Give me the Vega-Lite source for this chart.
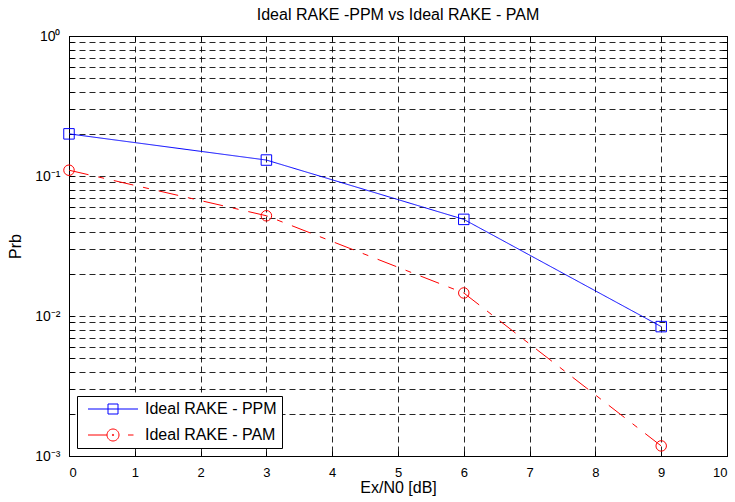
{
  "$schema": "https://vega.github.io/schema/vega-lite/v6.json",
  "autosize": {"type": "none"},
  "width": 658,
  "height": 420,
  "padding": {"left": 69, "top": 36, "right": 8, "bottom": 46},
  "background": "white",
  "config": {
    "font": "Liberation Sans",
    "view": {"stroke": "black", "strokeWidth": 1},
    "axis": {
      "domainColor": "black",
      "tickColor": "black",
      "labelColor": "black",
      "titleColor": "black",
      "labelFont": "Liberation Sans",
      "titleFont": "Liberation Sans",
      "labelFontSize": 13,
      "titleFontSize": 16,
      "titleFontWeight": "normal",
      "tickSize": -5,
      "labelOverlap": false
    }
  },
  "title": {
    "text": "Ideal RAKE -PPM vs Ideal RAKE - PAM",
    "fontSize": 16,
    "fontWeight": "normal",
    "font": "Liberation Sans",
    "color": "black",
    "offset": 6
  },
  "data": {
    "values": [
      {"x": 0, "prb": 0.2, "series": "Ideal RAKE - PPM"},
      {"x": 3, "prb": 0.13, "series": "Ideal RAKE - PPM"},
      {"x": 6, "prb": 0.049, "series": "Ideal RAKE - PPM"},
      {"x": 9, "prb": 0.0084, "series": "Ideal RAKE - PPM"},
      {"x": 0, "prb": 0.11, "series": "Ideal RAKE - PAM"},
      {"x": 3, "prb": 0.052, "series": "Ideal RAKE - PAM"},
      {"x": 6, "prb": 0.0146, "series": "Ideal RAKE - PAM"},
      {"x": 9, "prb": 0.00118, "series": "Ideal RAKE - PAM"}
    ]
  },
  "resolve": {
    "scale": {"color": "independent", "shape": "independent", "strokeDash": "independent"},
    "axis": {"x": "independent", "y": "independent"}
  },
  "layer": [
    {
      "mark": {"type": "line", "strokeWidth": 1},
      "encoding": {
        "x": {
          "field": "x", "type": "quantitative",
          "scale": {"domain": [0, 10], "nice": false},
          "axis": {
            "orient": "bottom",
            "title": "Ex/N0 [dB]",
            "values": [0, 1, 2, 3, 4, 5, 6, 7, 8, 9, 10],
            "format": "d",
            "grid": true, "gridColor": "black", "gridDash": [6, 4], "gridOpacity": 0.85,
            "labelPadding": 15,
            "titlePadding": 0
          }
        },
        "y": {
          "field": "prb", "type": "quantitative",
          "scale": {"type": "log", "domain": [0.001, 1], "nice": false},
          "axis": {
            "orient": "left",
            "title": "Prb",
            "values": [0.001, 0.002, 0.003, 0.004, 0.005, 0.006, 0.007, 0.008, 0.009, 0.01, 0.02, 0.03, 0.04, 0.05, 0.06, 0.07, 0.08, 0.09, 0.1, 0.2, 0.3, 0.4, 0.5, 0.6, 0.7, 0.8, 0.9, 1],
            "labelExpr": "datum.value == 1 ? '10⁰' : datum.value == 0.1 ? '10⁻¹' : datum.value == 0.01 ? '10⁻²' : datum.value == 0.001 ? '10⁻³' : ''",
            "labelFontSize": 14,
            "grid": true, "gridColor": "black", "gridDash": [6, 4], "gridOpacity": 0.85,
            "labelPadding": 14,
            "titlePadding": 11
          }
        },
        "color": {
          "field": "series", "type": "nominal",
          "scale": {"domain": ["Ideal RAKE - PPM", "Ideal RAKE - PAM"], "range": ["#0000ff", "#ff0000"]},
          "legend": null
        },
        "strokeDash": {
          "field": "series", "type": "nominal",
          "scale": {"domain": ["Ideal RAKE - PPM", "Ideal RAKE - PAM"], "range": [[1, 0], [20, 10, 6, 10]]},
          "legend": null
        }
      }
    },
    {
      "mark": {"type": "point", "filled": false, "strokeWidth": 1, "size": 110, "opacity": 1},
      "encoding": {
        "x": {
          "field": "x", "type": "quantitative",
          "axis": {"orient": "top", "title": null, "labels": false, "grid": false, "values": [0, 1, 2, 3, 4, 5, 6, 7, 8, 9, 10]}
        },
        "y": {
          "field": "prb", "type": "quantitative",
          "axis": {"orient": "right", "title": null, "labels": false, "grid": false,
            "values": [0.001, 0.002, 0.003, 0.004, 0.005, 0.006, 0.007, 0.008, 0.009, 0.01, 0.02, 0.03, 0.04, 0.05, 0.06, 0.07, 0.08, 0.09, 0.1, 0.2, 0.3, 0.4, 0.5, 0.6, 0.7, 0.8, 0.9, 1]}
        },
        "color": {
          "field": "series", "type": "nominal",
          "scale": {"domain": ["Ideal RAKE - PPM", "Ideal RAKE - PAM"], "range": ["#0000ff", "#ff0000"]},
          "legend": null
        },
        "shape": {
          "field": "series", "type": "nominal",
          "scale": {"domain": ["Ideal RAKE - PPM", "Ideal RAKE - PAM"], "range": ["square", "circle"]},
          "legend": null
        }
      }
    },
    {
      "transform": [{"filter": "datum.x < 0"}],
      "mark": {"type": "point", "filled": false, "strokeWidth": 1, "size": 100, "opacity": 1},
      "encoding": {
        "x": {"field": "x", "type": "quantitative", "axis": null},
        "y": {"field": "prb", "type": "quantitative", "axis": null},
        "color": {
          "field": "series", "type": "nominal",
          "scale": {"domain": ["Ideal RAKE - PPM", "Ideal RAKE - PAM"], "range": ["#0000ff", "#ff0000"]},
          "legend": {
            "title": null,
            "orient": "bottom-left",
            "offset": 8,
            "padding": 5,
            "strokeColor": "black",
            "fillColor": "white",
            "cornerRadius": 0,
            "labelFont": "Liberation Sans",
            "labelFontSize": 16,
            "labelColor": "black",
            "labelLimit": 300,
            "symbolOffset": 23,
            "symbolSize": 100,
            "symbolStrokeWidth": 1,
            "labelOffset": 24,
            "rowPadding": 10
          }
        },
        "shape": {
          "field": "series", "type": "nominal",
          "scale": {
            "domain": ["Ideal RAKE - PPM", "Ideal RAKE - PAM"],
            "range": [
              "M-5,0H5M-1,-1H1V1H-1Z",
              "M-5,0H-1.2M3,0H4.1M-1.2,0A1.2,1.2 0 1,0 1.2,0A1.2,1.2 0 1,0 -1.2,0M-0.15,0A0.15,0.15 0 1,0 0.15,0A0.15,0.15 0 1,0 -0.15,0"
            ]
          },
          "legend": {
            "title": null,
            "orient": "bottom-left",
            "offset": 8,
            "padding": 5,
            "strokeColor": "black",
            "fillColor": "white",
            "cornerRadius": 0,
            "labelFont": "Liberation Sans",
            "labelFontSize": 16,
            "labelColor": "black",
            "labelLimit": 300,
            "symbolOffset": 23,
            "symbolSize": 100,
            "symbolStrokeWidth": 1,
            "labelOffset": 24,
            "rowPadding": 10
          }
        }
      }
    }
  ]
}
